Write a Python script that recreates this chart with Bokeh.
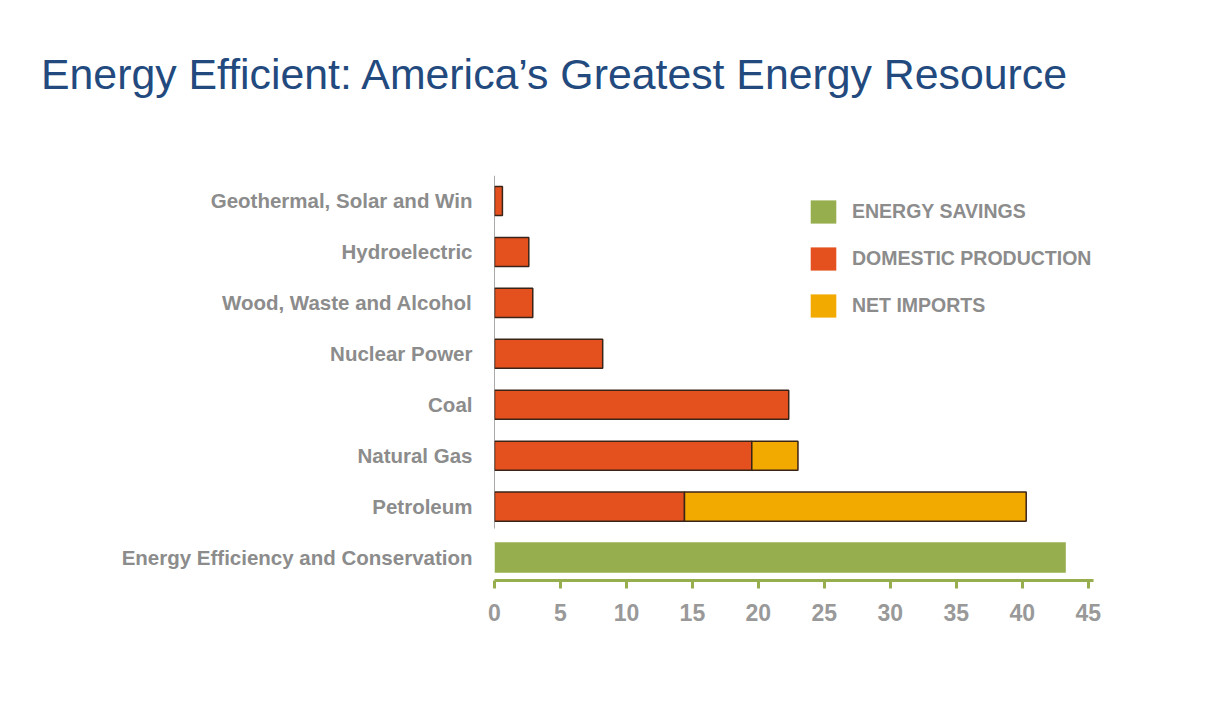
from bokeh.plotting import figure
from bokeh.models import (ColumnDataSource, Range1d, FixedTicker, Legend, LegendItem, Div)
from bokeh.layouts import column
from bokeh.embed import file_html
from bokeh.resources import INLINE

# ---- data ----
categories = ["Energy Efficiency and Conservation", "Petroleum", "Natural Gas", "Coal",
              "Nuclear Power", "Wood, Waste and Alcohol", "Hydroelectric",
              "Geothermal, Solar and Win"]
savings = [43.3, 0, 0, 0, 0, 0, 0, 0]
domestic = [0, 14.4, 19.5, 22.3, 8.2, 2.9, 2.6, 0.6]
imports = [0, 25.9, 3.5, 0, 0, 0, 0, 0]
x_ticks = [0, 5, 10, 15, 20, 25, 30, 35, 40, 45]
legend_labels = ["ENERGY SAVINGS", "DOMESTIC PRODUCTION", "NET IMPORTS"]
title_text = "Energy Efficient: America\u2019s Greatest Energy Resource"

GREEN = "#97ae4e"
RED = "#e5501f"
YELLOW = "#f2a900"
GRAY = "#8c8c8c"
FONT = "Liberation Sans"

idx = list(range(len(categories)))

def src(vals, base=None):
    ys, l, r = [], [], []
    for i, v in enumerate(vals):
        if v > 0:
            b = base[i] if base else 0
            ys.append(idx[i]); l.append(b); r.append(b + v)
    return ColumnDataSource(dict(y=ys, left=l, right=r))

DIV_H = 100
p = figure(width=1205, height=575, output_backend="svg", toolbar_location=None,
           x_range=Range1d(0, 45.4), y_range=Range1d(-0.45, len(categories) - 0.5),
           frame_width=599, frame_height=405,
           min_border_left=494, min_border_top=65, min_border_right=112,
           min_border_bottom=105)
p.outline_line_color = None
p.xgrid.visible = False
p.ygrid.visible = False
p.background_fill_color = "white"
p.border_fill_color = "white"

p.hbar(y="y", left="left", right="right", height=0.6, source=src(savings),
       fill_color=GREEN, line_color=None)
p.hbar(y="y", left="left", right="right", height=0.57, source=src(domestic),
       fill_color=RED, line_color="#3a2418", line_width=1.5)
p.hbar(y="y", left="left", right="right", height=0.57, source=src(imports, domestic),
       fill_color=YELLOW, line_color="#3a2418", line_width=1.5)

# legend swatches (no outline, as in the reference); zero-width so nothing shows in the plot
sw = [p.hbar(y=[0], left=[0], right=[0], height=0.5,
             fill_color=c, line_color=None) for c in (GREEN, RED, YELLOW)]

# thin vertical baseline for the source bars
p.segment(x0=[0], y0=[0.57], x1=[0], y1=[len(categories) - 0.5],
          line_color="#555555", line_width=1)

# x axis
xa = p.xaxis[0]
xa.ticker = FixedTicker(ticks=x_ticks)
xa.axis_line_color = GREEN
xa.axis_line_width = 3
xa.major_tick_line_color = GREEN
xa.major_tick_line_width = 3
xa.major_tick_in = 0
xa.major_tick_out = 8
xa.minor_tick_line_color = None
xa.major_label_text_font = FONT
xa.major_label_text_font_style = "bold"
xa.major_label_text_font_size = "23px"
xa.major_label_text_color = "#999999"
xa.major_label_standoff = 15

# y axis
ya = p.yaxis[0]
ya.ticker = FixedTicker(ticks=idx)
ya.major_label_overrides = {i: c for i, c in zip(idx, categories)}
ya.axis_line_color = None
ya.major_tick_line_color = None
ya.minor_tick_line_color = None
ya.major_label_text_font = FONT
ya.major_label_text_font_style = "bold"
ya.major_label_text_font_size = "20.5px"
ya.major_label_text_color = GRAY
ya.major_label_standoff = 16

legend = Legend(items=[LegendItem(label=t, renderers=[r]) for t, r in zip(legend_labels, sw)],
                location=(313, 260), orientation="vertical",
                glyph_width=32, glyph_height=29, spacing=18, padding=0, margin=0,
                label_standoff=13, label_text_font=FONT, label_text_font_style="bold",
                label_text_font_size="19.5px", label_text_color=GRAY,
                border_line_color=None, background_fill_alpha=0)
p.add_layout(legend)

title = Div(text=('<div style="font-family:\'Liberation Sans\',Arial,sans-serif;'
                  'font-size:42.8px;color:#234a7e;padding-left:36px;padding-top:45px;'
                  'white-space:nowrap;line-height:normal">' + title_text + '</div>'),
            width=1205, height=DIV_H)

layout = column(title, p, spacing=0)
open("out.html", "w").write(file_html(layout, INLINE))
